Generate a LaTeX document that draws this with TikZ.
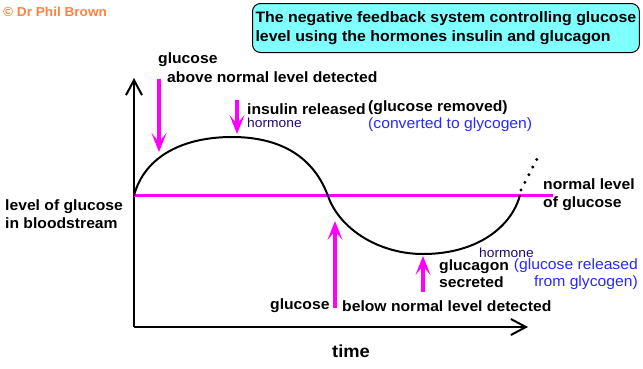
\documentclass[tikz,border=0pt]{standalone}
\usepackage{fontspec}
\setmainfont[FakeStretch=1.05]{Liberation Sans}
\usetikzlibrary{arrows.meta,positioning}
\definecolor{Magenta}{RGB}{255,0,255}
\definecolor{Copper}{RGB}{255,128,64}
\definecolor{Aqua}{RGB}{128,255,255}
\definecolor{Ink}{RGB}{40,40,255}
\definecolor{Navy}{RGB}{30,10,110}

\tikzset{
  lbl/.style={inner sep=0pt,anchor=west,align=left,font=\bfseries\fontsize{15}{17.5}\selectfont},
  note/.style={inner sep=0pt,anchor=west,align=left,text=Ink,font=\fontsize{15}{17}\selectfont},
  horm/.style={inner sep=0pt,anchor=west,text=Navy,font=\fontsize{13.2}{14}\selectfont},
  signal/.style={Magenta,line width=3.2bp,-{Stealth[length=19bp,width=15bp,inset=9bp]}},
  axis/.style={line width=2.6bp,-{Straight Barb[length=15bp,width=16bp,line width=2bp]}}
}

\begin{document}
\begin{tikzpicture}[x=1bp,y=-1bp]
    \useasboundingbox (0,0) rectangle (643,368);
    % axes
    \coordinate (O) at (134,327);
    \coordinate (ytop) at (134,78);
    \coordinate (xend) at (528,327);
    \draw[axis] (O) -- (ytop);
    \draw[axis] (O) -- (xend);
    % normal level
    \coordinate (n0) at (134,195.5);
    \coordinate (n1) at (553,195.5);
    \draw[Magenta,line width=2.4bp] (n0) -- (n1);
    % glucose curve
    \coordinate (peak) at (232,137);
    \coordinate (cross) at (328,196);
    \coordinate (dip) at (423,254);
    \coordinate (back) at (520,195);
    \draw[line width=2bp] (n0) .. controls (145,155) and (185,137) .. (peak)
        .. controls (282,137) and (314,158) .. (cross)
        .. controls (340,230) and (380,254) .. (dip)
        .. controls (478,254) and (512,226) .. (back);
    \coordinate (more) at (538,157);
    \draw[line width=3.3bp,line cap=round,dash pattern=on 0bp off 8.6bp] (521,190) -- (more);
    % title and credit
    \node[draw,rounded corners=8bp,fill=Aqua,line width=1bp,anchor=north west,
          minimum width=384bp,minimum height=49bp,inner xsep=3bp,align=left,
          font=\bfseries\fontsize{15.2}{18.5}\selectfont] (title) at (252,3)
          {The negative feedback system controlling glucose\\level using the hormones insulin and glucagon};
    \node[lbl,text=Copper,font=\bfseries\fontsize{13}{14}\selectfont] (credit) at (3,12) {\textcopyright{} Dr Phil Brown};
    % high side
    \node[lbl] (gluHi) at (158,60) {glucose};
    \node[lbl] (above) at (167,77) {above normal level detected};
    \coordinate (hiTop) at (159,79);
    \coordinate (hiTip) at (159,152);
    \draw[signal] (hiTop) -- (hiTip);
    \node[lbl] (insulin) at (247,109) {insulin released};
    \node[horm] (hormA) at (247,123) {hormone};
    \coordinate (insTop) at (237,100);
    \coordinate (insTip) at (237,134);
    \draw[signal] (insTop) -- (insTip);
    \node[lbl] (removed) at (368,108) {(glucose removed)};
    \node[note] (toGly) at (368,125) {(converted to glycogen)};
    % side labels
    \node[lbl] (normal) at (543,194.5) {normal level\\of glucose};
    \node[lbl] (level) at (5,214) {level of glucose\\in bloodstream};
    % low side
    \coordinate (loBot) at (335,308);
    \coordinate (loTip) at (335,221);
    \draw[signal] (loBot) -- (loTip);
    \node[lbl] (gluLo) at (270,306) {glucose};
    \node[lbl] (below) at (342,306) {below normal level detected};
    \coordinate (glcBot) at (423,292);
    \coordinate (glcTip) at (423,256);
    \draw[signal] (glcBot) -- (glcTip);
    \node[lbl] (glucagon) at (439,273.5) {glucagon\\secreted};
    \node[horm] (hormB) at (479,253) {hormone};
    \node[note,anchor=east,align=right] (fromGly) at (638,274.5) {(glucose released\\from glycogen)};
    \node[lbl,font=\bfseries\fontsize{17.5}{20}\selectfont] (time) at (332,351) {time};
\end{tikzpicture}
\end{document}
